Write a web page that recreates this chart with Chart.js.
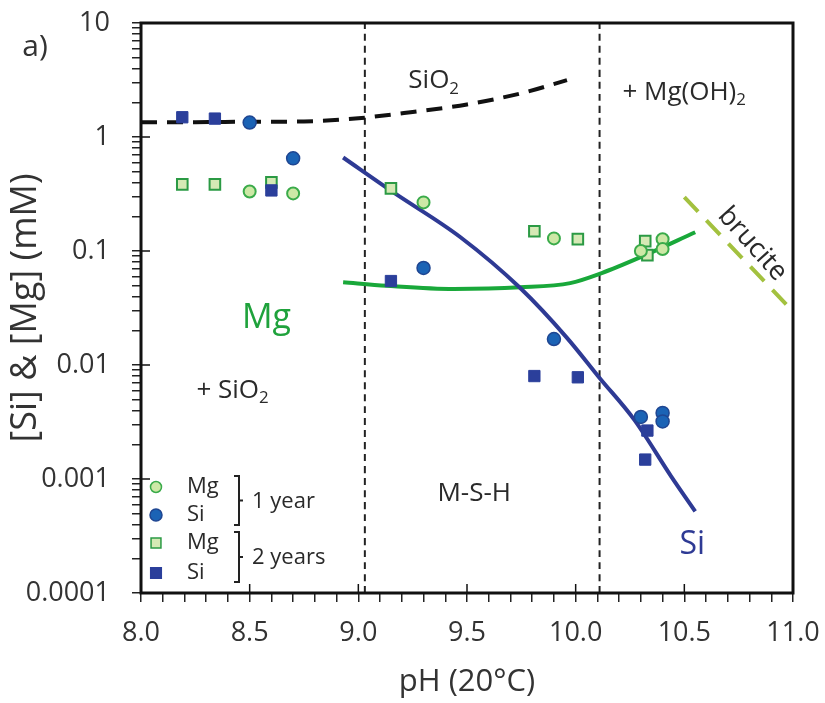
<!DOCTYPE html>
<html>
<head>
<meta charset="utf-8">
<script src="https://cdn.jsdelivr.net/npm/chart.js@4.4.0/dist/chart.umd.min.js"></script>
<style>
  html, body { margin: 0; padding: 0; background: #fff; }
  #wrap { width: 825px; height: 703px; }
</style>
</head>
<body>
<div id="wrap"><canvas id="chart"></canvas></div>
<script>
// tick labels
const xTickLabels = [8.0, 8.5, 9.0, 9.5, 10.0, 10.5, 11.0];
const yTickLabels = [0.0001, 0.001, 0.01, 0.1, 1, 10];

// 1 year samples
const mg1X = [8.5, 8.7, 9.3, 9.9, 10.3, 10.4, 10.4];
const mg1Y = [0.333, 0.32, 0.267, 0.129, 0.100, 0.127, 0.104];
const si1X = [8.5, 8.7, 9.3, 9.9, 10.3, 10.4, 10.4];
const si1Y = [1.34, 0.65, 0.071, 0.0169, 0.0035, 0.0038, 0.0032];

// 2 years samples
const mg2X = [8.19, 8.34, 8.6, 9.15, 9.81, 10.01, 10.32, 10.33];
const mg2Y = [0.384, 0.384, 0.40, 0.354, 0.149, 0.127, 0.122, 0.092];
const si2X = [8.19, 8.34, 8.6, 9.15, 9.81, 10.01, 10.33, 10.32];
const si2Y = [1.49, 1.45, 0.34, 0.0545, 0.0080, 0.0078, 0.00266, 0.00148];

// model curves
const sio2X = [8.0, 8.25, 8.5, 8.75, 9.0, 9.25, 9.5, 9.75, 9.96];
const sio2Y = [1.35, 1.35, 1.36, 1.37, 1.46, 1.66, 1.93, 2.42, 3.15];
const siLineX = [8.93, 9.16, 9.47, 9.745, 9.96, 10.11, 10.27, 10.44, 10.55];
const siLineY = [0.661, 0.328, 0.132, 0.0473, 0.0173, 0.0077, 0.0033, 0.00105, 0.00052];
const mgLineX = [8.93, 9.13, 9.44, 9.745, 9.975, 10.12, 10.30, 10.55];
const mgLineY = [0.0531, 0.0495, 0.0464, 0.048, 0.0523, 0.064, 0.0885, 0.146];
const bruciteX = [10.5, 11.0];
const bruciteY = [0.297, 0.0294];

// phase boundaries
const boundaries = [9.03, 10.11];

const pts = (xs, ys) => xs.map((x, i) => ({x: x, y: ys[i]}));

// minor ticks from the labelled ones
const xTicks = [];
xTickLabels.forEach((v, i) => {
    if (i < xTickLabels.length - 1) {
        for (let k = 0; k < 5; k++) xTicks.push(Math.round((v + k * 0.1) * 10) / 10);
    } else xTicks.push(v);
});
const yTicks = [];
yTickLabels.forEach((v, i) => {
    if (i < yTickLabels.length - 1) {
        for (let k = 1; k < 10; k++) yTicks.push(v * k);
    } else yTicks.push(v);
});

const FONT = 'Open Sans';
const TXT = '#2a2a2a';

const lineDs = (xs, ys, color, width, dash) => ({
    type: 'line',
    data: pts(xs, ys),
    borderColor: color,
    borderWidth: width,
    borderDash: dash || [],
    pointRadius: 0,
    fill: false,
    cubicInterpolationMode: 'monotone',
    borderCapStyle: 'butt'
});

const datasets = [
    {
        label: 'Si 1 year', data: pts(si1X, si1Y), pointStyle: 'circle', pointRadius: 6.5,
        backgroundColor: '#1b63b5', borderColor: '#1f4692', borderWidth: 1.5
    },
    {
        label: 'Mg 1 year', data: pts(mg1X, mg1Y), pointStyle: 'circle', pointRadius: 6,
        backgroundColor: '#cde8a6', borderColor: '#3aab4a', borderWidth: 2
    },
    {
        label: 'Si 2 years', data: pts(si2X, si2Y), pointStyle: 'rect', pointRadius: 8,
        backgroundColor: '#2b3f9b', borderColor: '#2b3f9b', borderWidth: 1
    },
    {
        label: 'Mg 2 years', data: pts(mg2X, mg2Y), pointStyle: 'rect', pointRadius: 7.5,
        backgroundColor: '#d5e9b5', borderColor: '#2b9a44', borderWidth: 2
    },
    lineDs(siLineX, siLineY, '#2e3a94', 4),
    lineDs(mgLineX, mgLineY, '#19a83a', 4),
    lineDs(sio2X, sio2Y, '#111', 4, [16, 10]),
    lineDs(bruciteX, bruciteY, '#a3c13f', 4, [20, 12]),
    lineDs([boundaries[0], boundaries[0]], [yTickLabels[0], yTickLabels[yTickLabels.length - 1]], '#222', 2, [7, 5]),
    lineDs([boundaries[1], boundaries[1]], [yTickLabels[0], yTickLabels[yTickLabels.length - 1]], '#222', 2, [7, 5])
];

// text, box, major ticks, legend
const decorPlugin = {
    id: 'decor',
    afterDatasetsDraw(chart) {
        const {ctx, chartArea: a, scales: {x, y}} = chart;
        const seg = (x1, y1, x2, y2) => { ctx.beginPath(); ctx.moveTo(x1, y1); ctx.lineTo(x2, y2); ctx.stroke(); };
        const txt = (s, px, py, size, color, align) => {
            ctx.font = size + 'px "' + FONT + '"';
            ctx.fillStyle = color;
            ctx.textAlign = align || 'left';
            ctx.textBaseline = 'middle';
            ctx.fillText(s, px, py);
            return ctx.measureText(s).width;
        };
        // text with subscript at data coords
        const sub = (s, s2, xv, yv, size) => {
            const px = x.getPixelForValue(xv), py = y.getPixelForValue(yv);
            const w = txt(s, px, py, size, TXT);
            txt(s2, px + w, py + size * 0.3, size * 0.65, TXT);
        };
        ctx.save();

        // box
        ctx.strokeStyle = '#111';
        ctx.lineWidth = 3;
        ctx.strokeRect(a.left, a.top, a.right - a.left, a.bottom - a.top);

        // inner half of major ticks
        ctx.lineWidth = 1.5;
        xTickLabels.forEach(v => { const p = x.getPixelForValue(v); seg(p, a.bottom, p, a.bottom - 9); });
        yTickLabels.forEach(v => { const p = y.getPixelForValue(v); seg(a.left, p, a.left + 9, p); });

        // annotations
        sub('SiO', '2', 9.23, 3.1, 26);
        sub('+ Mg(OH)', '2', 10.215, 2.47, 26);
        sub('+ SiO', '2', 8.255, 0.0060, 26);
        txt('M-S-H', x.getPixelForValue(9.533), y.getPixelForValue(0.00074), 26, TXT, 'center');
        txt('Mg', x.getPixelForValue(8.577), y.getPixelForValue(0.0258), 34, '#1fa23c', 'center');
        txt('Si', x.getPixelForValue(10.537), y.getPixelForValue(0.000264), 32, '#2e3a94', 'center');

        ctx.save();
        ctx.translate(x.getPixelForValue(10.813), y.getPixelForValue(0.115));
        ctx.rotate(48 * Math.PI / 180);
        txt('brucite', 0, 0, 27, TXT, 'center');
        ctx.restore();

        // y axis title
        ctx.save();
        ctx.translate(26, (a.top + a.bottom) / 2);
        ctx.rotate(-Math.PI / 2);
        txt('[Si] & [Mg] (mM)', 0, 0, 36, '#333', 'center');
        ctx.restore();

        // panel letter
        txt('a)', 35, 47, 30, '#333', 'center');

        // legend
        const lx = a.left + 15, tx = a.left + 46;
        const rows = [
            {ds: 1, dy: -106, label: 'Mg'},
            {ds: 0, dy: -78, label: 'Si'},
            {ds: 3, dy: -50, label: 'Mg'},
            {ds: 2, dy: -20, label: 'Si'}
        ];
        rows.forEach(r => {
            const d = datasets[r.ds];
            ctx.fillStyle = d.backgroundColor;
            ctx.strokeStyle = d.borderColor;
            Chart.helpers.drawPoint(ctx, {pointStyle: d.pointStyle, radius: d.pointRadius - 0.5, borderWidth: d.borderWidth, rotation: 0}, lx, a.bottom + r.dy);
            txt(r.label, tx, a.bottom + r.dy, 22, TXT);
        });
        // brackets
        ctx.strokeStyle = '#222';
        ctx.lineWidth = 2;
        const bracket = (top, bot, label) => {
            const bx = a.left + 98;
            ctx.beginPath();
            ctx.moveTo(bx - 5, top); ctx.lineTo(bx, top); ctx.lineTo(bx, bot); ctx.lineTo(bx - 5, bot);
            ctx.stroke();
            const mid = (top + bot) / 2;
            seg(bx, mid, bx + 4, mid);
            txt(label, bx + 13, mid + 1, 22, TXT);
        };
        bracket(a.bottom - 117, a.bottom - 68, '1 year');
        bracket(a.bottom - 61, a.bottom - 11, '2 years');

        ctx.restore();
    }
};

// keep the plot box where it is in the figure
const noPad = s => { s.paddingTop = 0; s.paddingBottom = 0; s.paddingLeft = 0; s.paddingRight = 0; };

new Chart(document.getElementById('chart'), {
    type: 'scatter',
    data: {datasets: datasets},
    options: {
        responsive: true,
        maintainAspectRatio: false,
        animation: false,
        layout: {padding: {left: 0, top: 23, right: 32, bottom: 0}},
        plugins: {legend: {display: false}, tooltip: {enabled: false}},
        scales: {
            x: {
                type: 'linear', min: 8, max: 11,
                afterBuildTicks: s => { s.ticks = xTicks.map(v => ({value: v})); },
                afterFit: s => { s.height = 110; noPad(s); },
                grid: {drawOnChartArea: false, drawTicks: true, tickLength: 9, color: '#222', lineWidth: 1.5},
                border: {display: false},
                ticks: {
                    autoSkip: false, maxRotation: 0, padding: 15, color: '#333',
                    font: {family: FONT, size: 27},
                    callback: v => xTickLabels.some(t => Math.abs(t - v) < 1e-6) ? v.toFixed(1) : ''
                },
                title: {display: true, text: 'pH (20°C)', color: '#333', font: {family: FONT, size: 31}, padding: {top: 0, bottom: 2}}
            },
            y: {
                type: 'logarithmic', min: 0.0001, max: 10,
                afterBuildTicks: s => { s.ticks = yTicks.map(v => ({value: v})); },
                afterFit: s => { s.width = 141; noPad(s); },
                grid: {drawOnChartArea: false, drawTicks: true, tickLength: 9, color: '#222', lineWidth: 1.5},
                border: {display: false},
                ticks: {
                    autoSkip: false, padding: 22, color: '#333',
                    font: {family: FONT, size: 27},
                    callback: v => yTickLabels.some(t => Math.abs(t - v) / t < 1e-6) ? String(v) : ''
                },
                title: {display: false}
            }
        }
    },
    plugins: [decorPlugin]
});
</script>
</body>
</html>
